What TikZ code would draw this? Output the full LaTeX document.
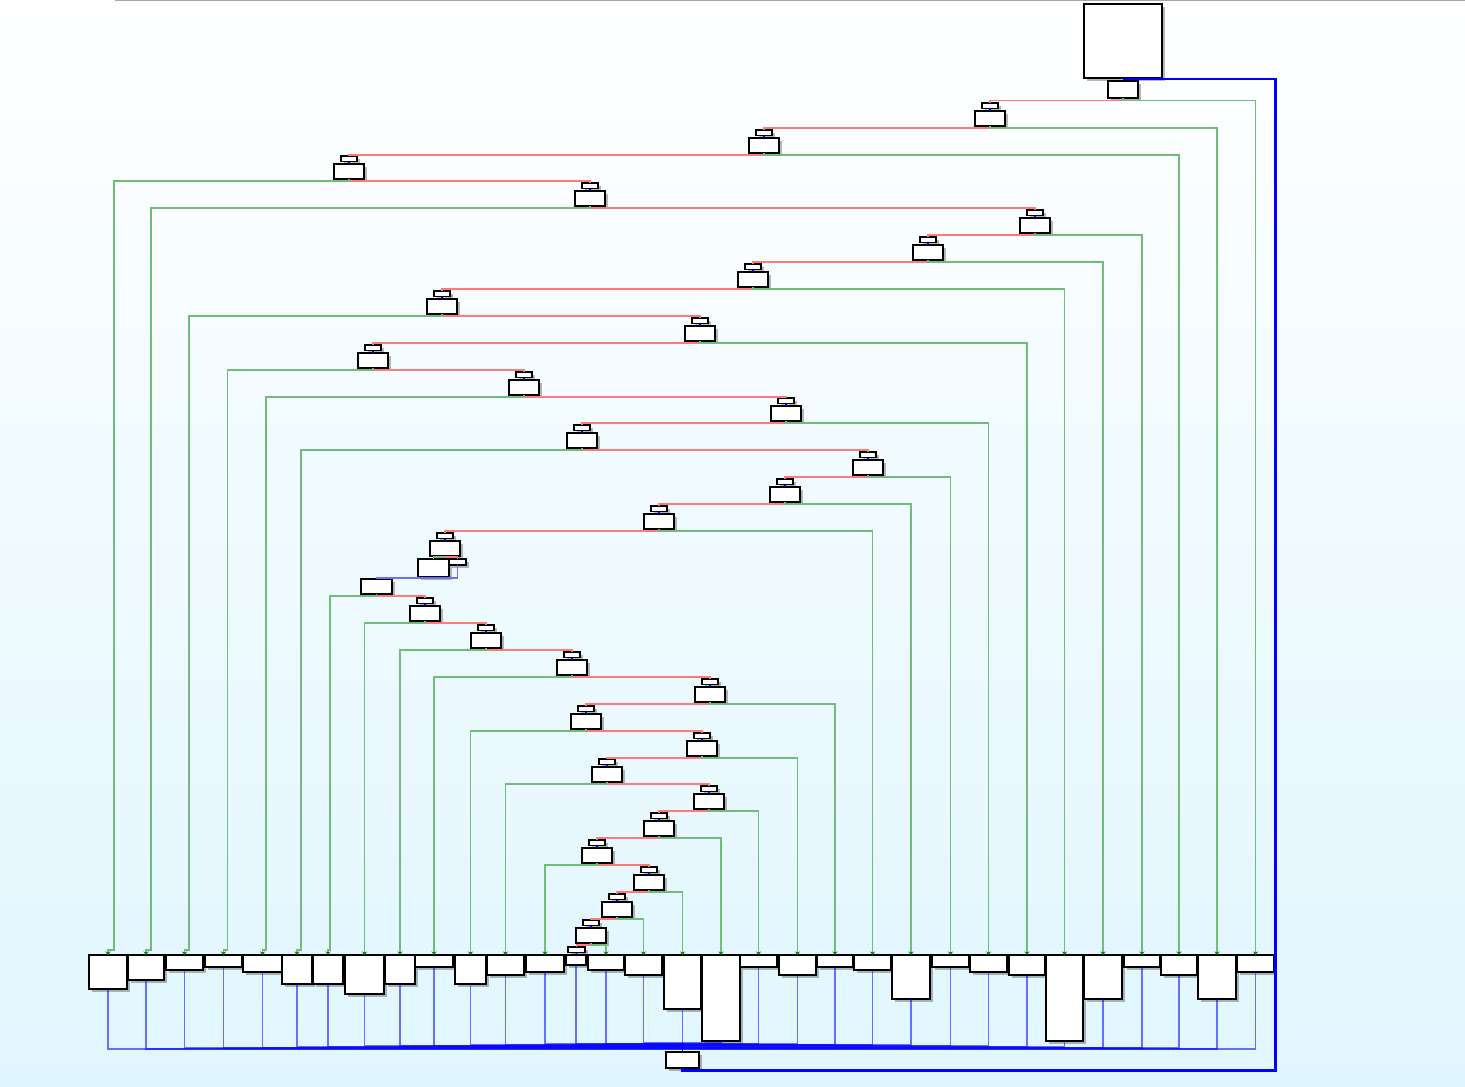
\documentclass[tikz,border=0pt]{standalone}
\usetikzlibrary{shadows,arrows.meta,calc}
\definecolor{bgb}{RGB}{224,246,254}
\definecolor{redc}{RGB}{255,122,122}
\definecolor{grnc}{RGB}{112,188,120}
\definecolor{grnd}{RGB}{20,120,30}
\begin{document}
\begin{tikzpicture}[x=0.5pt,y=-0.5pt,
 box/.style={draw=black,fill=white,line width=0.65pt,inner sep=0pt,outer sep=0pt,
   drop shadow={shadow xshift=1.5pt,shadow yshift=-1.5pt,fill=black,opacity=0.28}},
 redl/.style={draw=redc,line width=0.8pt},
 grnl/.style={draw=grnc,line width=0.8pt,-{Stealth[length=1.8pt,width=2.6pt,color=grnd]}},
 grns/.style={draw=grnc,line width=0.8pt},
 hb/.style={draw=blue,line width=0.7pt},
 busl/.style={draw=blue,opacity=0.55,line width=0.8pt},
 thb/.style={draw=blue,line width=1.1pt}]
\useasboundingbox (0,0) rectangle (1465,1086);
\shade[top color=white,bottom color=bgb] (0,0) rectangle (1465,1086);
\draw[black!35,line width=1pt] (115,0.5) -- (1465,0.5);
\newcommand\dec[3]{%
 \node[box,minimum width=15pt,minimum height=7.5pt] (d#1) at (#2,{#3+7.5}) {};
 \node[box,minimum width=8pt,minimum height=2.75pt] (h#1) at (#2,{#3-5.25}) {};
 \draw[hb] (h#1.south) -- (d#1.north);}
\newcommand\lf[4]{\node[box,minimum width={(#3-#2)*0.5pt},minimum height={(#4-955)*0.5pt}] (#1) at ({(#2+#3)/2},{(955+#4)/2}) {};}
% top and special nodes
\node[box,minimum width=39pt,minimum height=37pt] (top) at (1123,41) {};
\node[box,minimum width=15pt,minimum height=8.5pt] (d1) at (1123,89.5) {};
\dec{2}{990}{111}
\dec{3}{764}{138}
\dec{4}{349}{164}
\dec{5}{590}{191}
\dec{6}{1035}{218}
\dec{7}{928}{245}
\dec{8}{753}{272}
\dec{9}{442}{299}
\dec{10}{700}{326}
\dec{11}{373}{353}
\dec{12}{524}{380}
\dec{13}{786}{406}
\dec{14}{582}{433}
\dec{15}{868}{460}
\dec{16}{785}{487}
\dec{17}{659}{514}
\dec{18}{445}{541}
\node[box,minimum width=15.5pt,minimum height=9pt] (e18) at (433.5,568) {};
\node[box,minimum width=8.5pt,minimum height=3pt] (s18) at (457.5,562) {};
\node[box,minimum width=15.5pt,minimum height=7.5pt] (d19) at (376.5,586.5) {};
\dec{20}{425}{606}
\dec{21}{486}{633}
\dec{22}{572}{660}
\dec{23}{710}{687}
\dec{24}{586}{714}
\dec{25}{702}{741}
\dec{26}{607}{767}
\dec{27}{709}{794}
\dec{28}{659}{821}
\dec{29}{597}{848}
\dec{30}{649}{875}
\dec{31}{617}{902}
\dec{32}{591}{928}
\node[box,minimum width=8.5pt,minimum height=2.75pt] (h33) at (576.5,949.75) {};
% leaves
\lf{l1}{89}{127}{989}
\lf{l2}{128}{164}{980}
\lf{l3}{166}{203}{970}
\lf{l4}{205}{242}{967}
\lf{l5}{243}{282}{972}
\lf{l6}{282}{312}{984}
\lf{l7}{313}{343}{984}
\lf{l8}{345}{384}{994}
\lf{l9}{385}{415}{984}
\lf{l10}{415}{453}{967}
\lf{l11}{455}{486}{984}
\lf{l12}{487}{524}{975}
\lf{l13}{526}{564}{972}
\lf{l14}{566}{586}{965}
\lf{l15}{588}{624}{970}
\lf{l16}{625}{662}{975}
\lf{l17}{664}{701}{1009}
\lf{l18}{702}{740}{1041}
\lf{l19}{740}{777}{967}
\lf{l20}{779}{816}{975}
\lf{l21}{817}{853}{967}
\lf{l22}{854}{891}{970}
\lf{l23}{892}{930}{999}
\lf{l24}{932}{969}{967}
\lf{l25}{970}{1007}{972}
\lf{l26}{1009}{1045}{975}
\lf{l27}{1046}{1083}{1041}
\lf{l28}{1084}{1122}{999}
\lf{l29}{1124}{1160}{967}
\lf{l30}{1161}{1197}{975}
\lf{l31}{1198}{1236}{999}
\lf{l32}{1237}{1274}{972}
\node[box,minimum width=16.5pt,minimum height=8pt] (ex) at (682.5,1060) {};
% red edges (true branch to next test)
\draw[redl] (d1.south) -- ++(0,2.5) -| (h2.north);
\foreach \a/\b in {2/3,3/4,4/5,5/6,6/7,7/8,8/9,9/10,10/11,11/12,12/13,13/14,14/15,15/16,16/17,17/18,
  19/20,20/21,21/22,22/23,23/24,24/25,25/26,26/27,27/28,28/29,29/30,30/31,31/32,32/33}
  {\draw[redl] (d\a.south) -- ++(0,2) -| (h\b.north);}
% green edges to leaves
\draw[grnl] (d1.south) -- ++(0,2.5) -| (l32.north);
\foreach \a/\b in {2/31,3/30,6/29,7/28,8/27,10/26,13/25,15/24,16/23,17/22,
  20/8,21/9,22/10,23/21,24/11,25/20,26/12,27/19,28/18,29/13,30/17,31/16,32/15}
  {\draw[grnl] (d\a.south) -- ++(0,2) -| (l\b.north);}
\draw[grnl] (d4.south) -- ++(0,2) -| (114,950) -| (l1.north);
\draw[grnl] (d5.south) -- ++(0,2) -| (151,950) -| (l2.north);
\draw[grnl] (d9.south) -- ++(0,2) -| (189,950) -| (l3.north);
\draw[grnl] (d11.south) -- ++(0,2) -| (227.5,950) -| (l4.north);
\draw[grnl] (d12.south) -- ++(0,2) -| (266,950) -| (l5.north);
\draw[grnl] (d14.south) -- ++(0,2) -| (301,950) -| (l6.north);
\draw[grnl] (d19.south) -- ++(0,2) -| (330,950) -| (l7.north);
% special block under test 18
\draw[grns] (d18.south) -- ++(0,1.2) -| (e18.north);
\draw[redl] (d18.south) -- ++(0,1.2) -| (s18.north);
\draw[busl,opacity=1,draw={rgb,255:red,110;green,110;blue,255}] (s18.south) -- ++(0,12.8) -| (d19.north);
\draw[hb] (h33.south) -- (l14.north);
% exits to the common node
\foreach \n/\d in {1/1.45,2/1.65,3/1.9,4/2.1,5/2.35,6/2.55,7/2.7,8/2.9,9/3.15,10/3.3,11/3.55,
  12/3.75,13/3.95,14/4.15,15/4.3,16/4.55,18/4.55,19/4.3,20/4.1,21/3.85,22/3.65,23/3.45,
  24/3.2,25/3.0,26/2.75,27/2.55,28/2.35,29/2.1,30/1.9,31/1.65,32/1.45}
  {\draw[busl] (l\n.south) |- ([yshift=\d pt]ex.north) -- (ex.north);}
\draw[busl] (l17.south) -- (ex.north);
% back edge
\draw[thb] ([yshift=-0.5pt]top.south) -| (1275.5,1070.5) -| (ex.south);
\end{tikzpicture}
\end{document}
